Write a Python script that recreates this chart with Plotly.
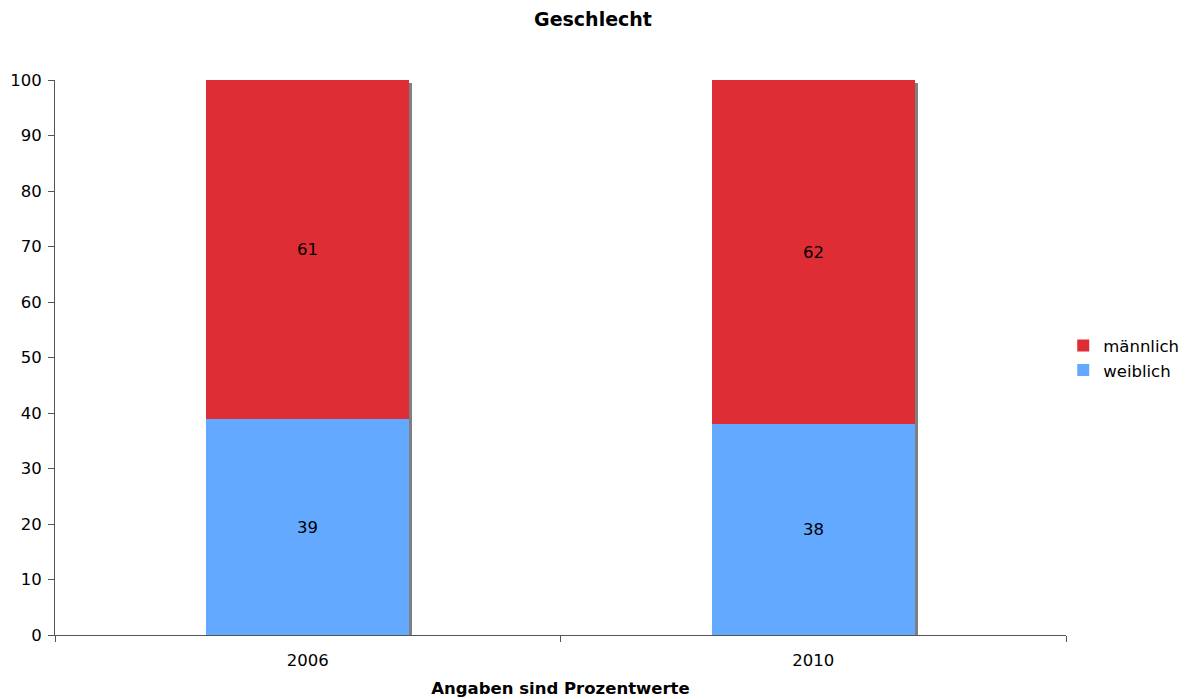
import plotly.graph_objects as go

# Anteile nach Geschlecht (Prozent)
jahre = ["2006", "2010"]
weiblich = [39, 38]
maennlich = [61, 62]

FONT = "DejaVu Sans"
FS = 16.5
ROT = "#DE2D35"
BLAU = "#63A9FF"
SCHATTEN = "#7F7F7F"

bar_w = 0.402
gesamt = [w + m for w, m in zip(weiblich, maennlich)]

fig = go.Figure()

# Schlagschatten hinter den Säulen
fig.add_trace(go.Bar(
    x=jahre, y=[g + 0.55 for g in gesamt], base=[-1.1] * len(jahre),
    width=bar_w, offset=-bar_w / 2 + 0.006,
    marker=dict(color=SCHATTEN, line=dict(width=0)),
    showlegend=False, hoverinfo="skip",
))

fig.add_trace(go.Bar(
    x=jahre, y=weiblich, name="weiblich", width=bar_w, offset=-bar_w / 2,
    marker=dict(color=BLAU, line=dict(width=0)),
    text=[str(v) for v in weiblich], textposition="inside",
    insidetextanchor="middle", textfont=dict(color="black", size=FS, family=FONT),
))
fig.add_trace(go.Bar(
    x=jahre, y=maennlich, base=weiblich, name="männlich", width=bar_w, offset=-bar_w / 2,
    marker=dict(color=ROT, line=dict(width=0)),
    text=[str(v) for v in maennlich], textposition="inside",
    insidetextanchor="middle", textfont=dict(color="black", size=FS, family=FONT),
))

fig.update_layout(
    barmode="overlay",
    width=1186, height=699,
    margin=dict(l=55, r=120, t=80, b=64, autoexpand=False),
    paper_bgcolor="white", plot_bgcolor="white",
    font=dict(family=FONT, size=FS, color="black"),
    title=dict(text="<b>Geschlecht</b>", x=0.5, xanchor="center", y=0.972, yanchor="middle",
               font=dict(size=19, family=FONT)),
    legend=dict(xref="container", yref="container", x=0.8965, y=0.488,
                xanchor="left", yanchor="middle",
                traceorder="reversed", font=dict(size=FS, family=FONT),
                itemwidth=30, tracegroupgap=0),
    bargap=0,
)
fig.update_xaxes(
    type="category", range=[-0.5, 1.5], showline=True, linecolor="#555555", linewidth=1,
    ticks="outside", tickson="boundaries", ticklen=6, tickcolor="#555555",
    ticklabelstandoff=10,
    showgrid=False, zeroline=False,
    title=dict(text="<b>Angaben sind Prozentwerte</b>", font=dict(size=FS, family=FONT), standoff=13),
)
fig.update_yaxes(
    range=[0, 100], dtick=10, showline=True, linecolor="#555555", linewidth=1,
    ticks="outside", ticklen=6, tickcolor="#555555", ticklabelstandoff=3,
    showgrid=False, zeroline=False,
)

fig.write_html("out.html")
